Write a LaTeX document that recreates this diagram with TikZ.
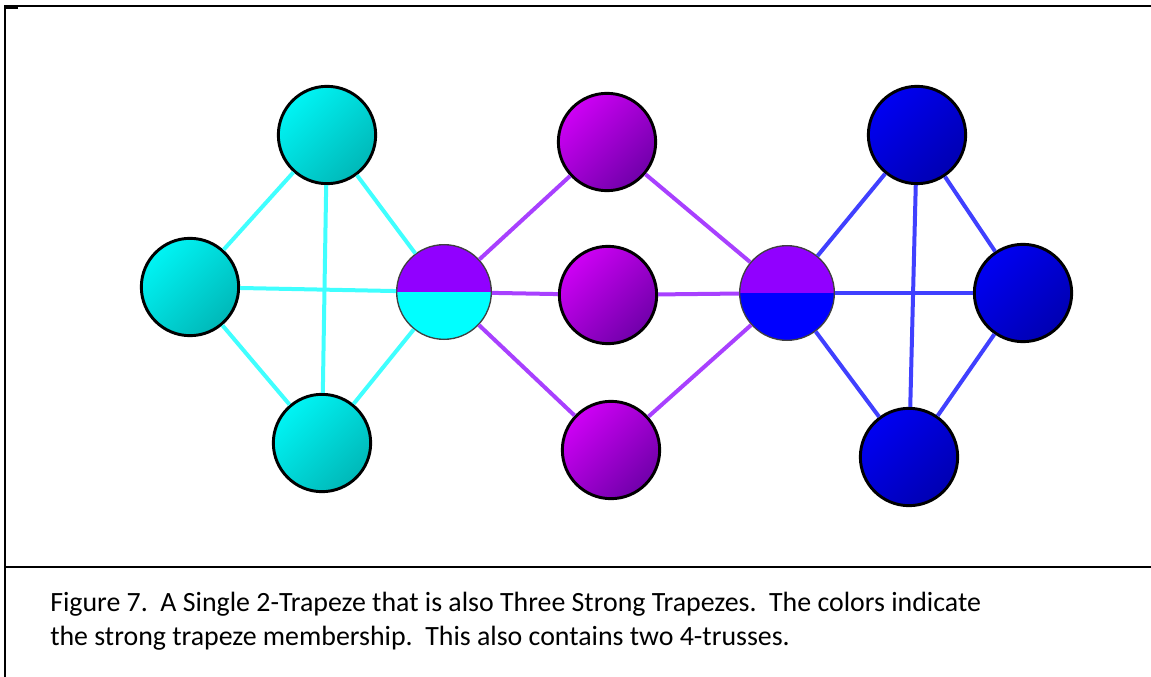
\documentclass[tikz,border=0pt]{standalone}
\usepackage{fontspec}
\setmainfont{Carlito}
\definecolor{cyanA}{RGB}{0,244,244}
\definecolor{cyanB}{RGB}{0,184,184}
\definecolor{purA}{RGB}{206,0,245}
\definecolor{purB}{RGB}{112,0,170}
\definecolor{bluA}{RGB}{0,0,242}
\definecolor{bluB}{RGB}{0,0,178}
\definecolor{splitPur}{RGB}{145,0,255}
\definecolor{splitCyan}{RGB}{0,255,255}
\definecolor{splitBlue}{RGB}{0,0,255}
\definecolor{cEdge}{RGB}{64,255,255}
\definecolor{pEdge}{RGB}{168,64,255}
\definecolor{bEdge}{RGB}{64,64,255}
\begin{document}
\begin{tikzpicture}[x=0.75pt,y=-0.75pt,
  gnode/.style={circle, draw=black, line width=2.2pt, minimum size=73pt, inner sep=0pt},
  cnode/.style={gnode, top color=cyanA, bottom color=cyanB, shading angle=45},
  pnode/.style={gnode, top color=purA, bottom color=purB, shading angle=45},
  bnode/.style={gnode, top color=bluA, bottom color=bluB, shading angle=45},
  splitnode/.style={circle, draw=black!75, line width=1pt, minimum size=71pt, inner sep=0pt,
    path picture={\fill[splitPur] (path picture bounding box.north west) rectangle (path picture bounding box.east);
                  \fill[#1] (path picture bounding box.west) rectangle (path picture bounding box.south east);}},
  cedge/.style={draw=cEdge, line width=3pt},
  pedge/.style={draw=pEdge, line width=3pt},
  bedge/.style={draw=bEdge, line width=3pt},
  frameline/.style={draw=black, line width=1.5pt},
  captext/.style={anchor=base west, inner sep=0pt, font=\fontsize{20.9pt}{25pt}\selectfont}
]
\useasboundingbox (0,0) rectangle (1151,677);
% frame
\coordinate (fTL) at (5,6);
\coordinate (fTR) at (1151,6);
\coordinate (fBL) at (5,677);
\coordinate (dL) at (5,567);
\coordinate (dR) at (1151,567);
\draw[frameline] (fBL) -- (fTL) -- (fTR);
\draw[frameline] (dL) -- (dR);
\coordinate (stubA) at (5,7.5);
\coordinate (stubB) at (18,7.5);
\draw[line width=2.2pt] (stubA) -- (stubB);
% nodes
\node[cnode] (cT) at (327,135) {};
\node[cnode] (cL) at (190,287) {};
\node[cnode] (cB) at (322,443) {};
\node[splitnode=splitCyan] (sL) at (444,292) {};
\node[pnode] (pT) at (607,142) {};
\node[pnode] (pM) at (608,295) {};
\node[pnode] (pB) at (611,450) {};
\node[splitnode=splitBlue] (sR) at (787,293) {};
\node[bnode] (bT) at (917,135) {};
\node[bnode] (bR) at (1023,293) {};
\node[bnode] (bB) at (909,457) {};
% edges
\draw[cedge] (cT) -- (cL);
\draw[cedge] (cT) -- (cB);
\draw[cedge] (cT) -- (sL);
\draw[cedge] (cL) -- (sL);
\draw[cedge] (cL) -- (cB);
\draw[cedge] (cB) -- (sL);
\draw[pedge] (sL) -- (pT);
\draw[pedge] (sL) -- (pM);
\draw[pedge] (sL) -- (pB);
\draw[pedge] (pT) -- (sR);
\draw[pedge] (pM) -- (sR);
\draw[pedge] (pB) -- (sR);
\draw[bedge] (sR) -- (bT);
\draw[bedge] (sR) -- (bR);
\draw[bedge] (sR) -- (bB);
\draw[bedge] (bT) -- (bR);
\draw[bedge] (bT) -- (bB);
\draw[bedge] (bR) -- (bB);
% caption
\node[captext] (cap1) at (50,611) {Figure 7.~~A Single 2-Trapeze that is also Three Strong Trapezes.~~The colors indicate};
\node[captext] (cap2) at (50,645) {the strong trapeze membership.~~This also contains two 4-trusses.};
\end{tikzpicture}
\end{document}
